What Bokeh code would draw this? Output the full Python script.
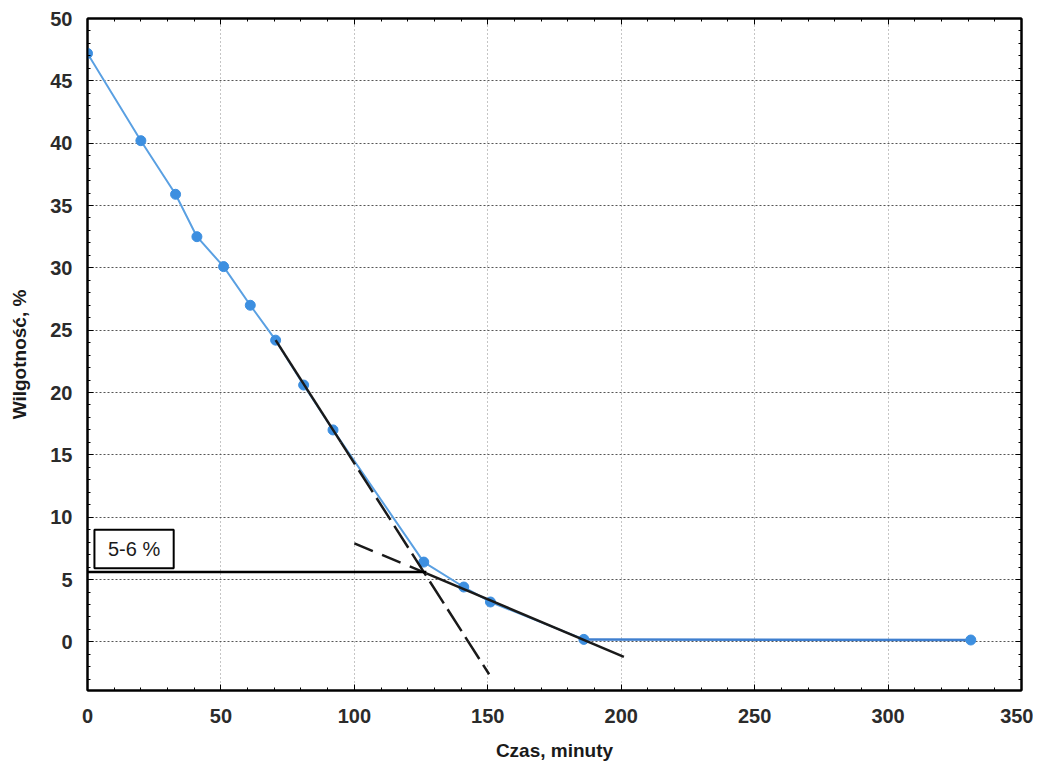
from bokeh.plotting import figure
from bokeh.models import (Range1d, LinearAxis, SingleIntervalTicker, ColumnDataSource)
from bokeh.core.properties import value
from bokeh.embed import file_html
from bokeh.resources import INLINE

# --- data ---
czas = [0, 20, 33, 41, 51, 61, 70.5, 81, 92, 126, 141, 151, 186]
wilgotnosc = [47.2, 40.2, 35.9, 32.5, 30.1, 27.0, 24.2, 20.6, 17.0, 6.4, 4.4, 3.2, 0.2]
czas_koniec = [186, 331]
wilgotnosc_koniec = [0.2, 0.15]

styczna1_solid_x = [70.5, 95]
styczna1_solid_y = [24.2, 16.0]
styczna1_dash_x = [95, 150.5]
styczna1_dash_y = [16.0, -2.6]

styczna2_dash_x = [100, 127]
styczna2_dash_y = [7.9, 5.5]
styczna2_solid_x = [127, 201]
styczna2_solid_y = [5.5, -1.2]

poziom_x = [0, 127]
poziom_y = [5.6, 5.6]

box_x = [2.6, 32.3]
box_y = [5.9, 9.0]
box_label = "5-6 %"

FONT = "Liberation Sans"

p = figure(frame_width=934, frame_height=672,
           x_range=Range1d(0, 350), y_range=Range1d(-3.9, 50),
           output_backend="svg", toolbar_location=None,
           min_border_left=87, min_border_top=18, min_border_right=12,
           min_border_bottom=76, background_fill_color="white",
           border_fill_color="white")

p.outline_line_color = "black"
p.outline_line_width = 2

p.xaxis.ticker = SingleIntervalTicker(interval=50, num_minor_ticks=5)
p.yaxis.ticker = SingleIntervalTicker(interval=5, num_minor_ticks=5)

for ax in (p.xaxis[0], p.yaxis[0]):
    ax.axis_line_color = "black"
    ax.axis_line_width = 2
    ax.major_tick_in = 6
    ax.major_tick_out = 0
    ax.minor_tick_in = 3
    ax.minor_tick_out = 0
    ax.major_tick_line_color = "black"
    ax.minor_tick_line_color = "black"
    ax.major_label_text_font = FONT
    ax.major_label_text_font_size = "20px"
    ax.major_label_text_font_style = "bold"
    ax.major_label_text_color = "#2b2b2b"
    ax.axis_label_text_font = FONT
    ax.axis_label_text_font_style = "bold"
    ax.axis_label_text_color = "#1a1a1a"

p.xaxis.axis_label = "Czas, minuty"
p.yaxis.axis_label = "Wilgotność, %"
p.xaxis.axis_label_text_font_size = "19px"
p.yaxis.axis_label_text_font_size = "19px"
p.xaxis.major_label_standoff = 18
p.xaxis.axis_label_standoff = 14
p.yaxis.major_label_standoff = 15
p.yaxis.axis_label_standoff = 17

# top / right axes: ticks only (labels not drawn)
for loc, interval in (("above", 50), ("right", 5)):
    ax = LinearAxis(ticker=SingleIntervalTicker(interval=interval, num_minor_ticks=5),
                    major_label_text_font_size="1px", major_label_text_color=None,
                    major_label_standoff=0,
                    major_tick_in=6, major_tick_out=0, minor_tick_in=3, minor_tick_out=0,
                    axis_line_color="black", axis_line_width=2)
    p.add_layout(ax, loc)

p.xgrid.grid_line_color = "#8a8a8a"
p.xgrid.grid_line_dash = "1 3"
p.xgrid.grid_line_width = 1
p.ygrid.grid_line_color = "#555555"
p.ygrid.grid_line_dash = "2 2"
p.ygrid.grid_line_width = 1

# data curve
src = ColumnDataSource(dict(x=czas, y=wilgotnosc))
p.line("x", "y", source=src, line_color="#5aa0e2", line_width=2)
p.line(czas_koniec, wilgotnosc_koniec, line_color="#3f7fcf", line_width=2.5)
p.scatter("x", "y", source=src, size=10, fill_color="#3d8fe0", line_color="#3d8fe0")
p.scatter(czas_koniec[1:], wilgotnosc_koniec[1:], size=10,
          fill_color="#3d8fe0", line_color="#3d8fe0")

# tangent lines
p.line(styczna1_solid_x, styczna1_solid_y, line_color="#1a1a1a", line_width=2.5)
p.line(styczna1_dash_x, styczna1_dash_y, line_color="#1a1a1a", line_width=2.5,
       line_dash="26 7")
p.line(styczna2_dash_x, styczna2_dash_y, line_color="#1a1a1a", line_width=2.5,
       line_dash="20 10")
p.line(styczna2_solid_x, styczna2_solid_y, line_color="#1a1a1a", line_width=2.5)
p.line(poziom_x, poziom_y, line_color="black", line_width=2.5)

# label box
p.quad(left=[box_x[0]], right=[box_x[1]], bottom=[box_y[0]], top=[box_y[1]],
       fill_color="white", line_color="black", line_width=2)
p.text(x=[(box_x[0] + box_x[1]) / 2], y=[(box_y[0] + box_y[1]) / 2],
       text=[box_label], text_align="center", text_baseline="middle",
       text_font=value(FONT), text_font_size="20px", text_color="#1a1a1a")

open("out.html", "w").write(file_html(p, INLINE))
